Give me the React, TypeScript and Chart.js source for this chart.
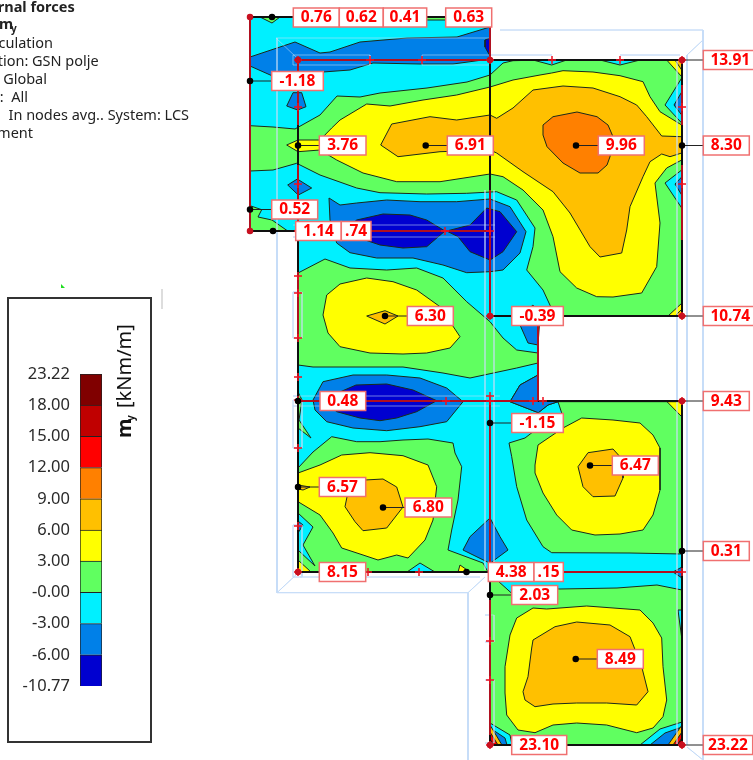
import React, { useEffect, useRef } from "react";
import { Chart, registerables } from "chart.js";
Chart.register(...registerables);

type P = [number, number];

// ---------- legend data ----------
const legendTicks = ["-10.77", "-6.00", "-3.00", "-0.00", "3.00", "6.00", "9.00", "12.00", "15.00", "18.00", "23.22"];
const legendColors = ["#0000d0", "#0080e8", "#00f0ff", "#60ff60", "#ffff00", "#ffc000", "#ff8000", "#ff0000", "#c00000", "#800000"];
const C = { dblue: "#0000d0", blue: "#0080e8", cyan: "#00f0ff", green: "#60ff60", yellow: "#ffff00", orange: "#ffc000", dorange: "#ff8000", red: "#ff0000", dred: "#c00000", maroon: "#800000" };

// ---------- contour bands ----------
const slab: P[] = [[250,17],[490,17],[490,60],[682,60],[682,316],[538,316],[538,401],[682,401],[682,745],[490,745],[490,572],[298,572],[298,231],[250,231]];
const blueTop: P[] = [[250,57],[295,42],[320,53],[330,52],[360,42],[407,38],[457,37],[490,27],[490,59],[453,64],[420,64],[373,63],[350,70],[323,72],[277,78],[250,66]];
const dblueTop: P[] = [[490,38],[485,40],[485,47],[490,56]];
const greenUpper: P[] = [[250,125.7],[273,127],[295,129],[320,115],[337,96],[360,97],[380,93],[427,88],[467,82],[490,75],[503,63],[513,60.7],[541.7,60],[682,60],[682,316],[555,316],[543,290],[526.7,270],[533,246.7],[535,228],[516.7,200],[496.7,191.7],[466.7,193.3],[426.7,194],[380,192.7],[356.7,188],[320,175],[296.7,163.3],[273,170],[250,171]];
const yellowUpper: P[] = [[286.7,145],[298,140],[320,140],[331.7,128],[340,120],[366.7,104],[390,106],[423,100],[456.7,95],[490,87],[513,80],[540,75],[551.7,73],[563,70.7],[593,72],[620,75.7],[643,81.7],[650,96.7],[660,111.7],[681.7,125],[681.7,160],[666.7,168],[655,183],[660,223],[656.7,266.7],[641.7,293],[613,297],[596.7,296.7],[576.7,288],[560,271.7],[553,236.7],[543,210],[523,190],[503,176.7],[490,174],[440,181.7],[396.7,181.7],[363,173],[336.7,160],[320,150],[298,151.7]];
const orangeUpper: P[] = [[380.7,145],[391.7,124],[430,116.7],[456.7,120],[490,115],[496.7,118.3],[513,108],[533,90],[563,86],[593,88],[620,96.7],[636.7,105],[646.7,116.7],[661.7,136],[681.7,136.7],[681.7,153],[670,156.7],[661.7,154],[650,161.7],[643,176.7],[630,206.7],[626.7,230],[621.7,253],[600,257],[590,246.7],[570,213],[553,191.7],[523,171.7],[496.7,153],[490,150],[440,151.7],[398,156.7]];
const dorangeUpper: P[] = [[543,125],[553,116.7],[577,112],[597,116.7],[608,125],[613,136.7],[610,156.7],[607,165],[598,173],[580,173],[563,163],[547,146.7],[543,135]];
const smallGreens: P[][] = [
  [[260,17],[272,23],[280,17]],
  [[425,17],[447,17],[447,20],[425,20]],
  [[250,205.7],[261.7,209.7],[258,217],[272,220],[287,230.5],[250,230.5]],
  [[298,392],[302,400],[299,420],[311,438],[298,428]],
];
const bluePockets: P[][] = [
  [[286.7,106],[293,92.7],[301.7,92.7],[306,106.7],[297.7,110]],
  [[287.7,185],[297.3,179],[311.7,188],[298.3,195]],
  [[329,198],[340,205],[356.7,203],[386.7,200],[420,201.7],[456.7,201.7],[490,199],[510,206.7],[526,231.7],[520,253],[503,270],[490,271.7],[466.7,272.7],[443,265],[413,258],[376.7,258],[350,252.7],[336.7,243],[330,220]],
  [[520,325],[527,310],[533,305],[540,316],[538,345],[528,343]],
  [[313,400],[323,381.7],[353,375],[386.7,375],[420,378],[446.7,388],[463,401.7],[446.7,421.7],[420,426.7],[386.7,430.7],[353,428],[326.7,421.7],[315,410]],
  [[510,401.7],[520,385],[538,375],[538,401],[558,401.7],[548,405],[538.3,412.7]],
  [[463,550],[470,536.7],[490,518],[500,536.7],[508,550],[490,563.3]],
  [[673,572],[682,567],[682,578]],
];
const darkBlueCores: P[][] = [
  [[356.7,220],[383,214],[410,215],[426.7,220],[445,231],[426.7,246.7],[403,248],[380,245],[360,238.3],[345,230]],
  [[446.7,231],[470,225],[486.7,208],[500,211.7],[516.7,231.7],[503,251.7],[490,260],[470,251.7],[458,236.7]],
  [[326,398],[356,385],[386.7,384],[413,390],[436.7,400.7],[416.7,411.7],[396.7,418],[380,420.7],[360,418],[336.7,411.7],[326.7,403]],
];
const greenMiddle: P[] = [[298,273],[325,259],[350,268],[386.7,270],[416.7,268],[443,278],[466.7,301.7],[490,321.7],[503,338],[516.7,350],[538,353],[538,363],[516.7,368],[470,378],[443,373],[403,367],[353,367],[313,367],[298,365]];
const yellowMiddle: P[] = [[323,315],[326.7,295],[340,284],[366.7,278],[393,281.7],[416.7,290],[440,306.7],[460,336.7],[450,348],[426.7,353],[403,354],[370,353],[340,346.7],[328,333]];
const orangeMiddle: P[] = [[366.7,316],[385,310.7],[398,316],[385,324]];
const greenLower: P[] = [[298,468],[313,452],[331.7,436.7],[356.7,441.7],[380,441.7],[403,440],[428,439],[453,443],[455,453],[461.7,466.7],[458,500],[451.7,530],[448,550],[483,563],[488,572],[511.7,593.3],[533,588],[560,589],[617,588],[657,585],[682,590],[682,745],[490,745],[490,572],[298,572]];
const cyanLowerPocket: P[] = [[298,513],[313,527],[303,545],[315,566],[298,550]];
const blueLowerPocket: P[] = [[298,521],[303,525],[298,533]];
const yellowLowerLeft: P[] = [[298,473],[320,465],[341.7,455],[370,452.7],[403,455.7],[428,465],[436.7,486.7],[433,520],[425,540],[408,558],[396.7,555],[378,560],[363,555],[341.7,548],[333,533],[320,515],[298,501.7]];
const orangeLowerLeft: P[] = [[345,506.7],[348,492],[365,480],[383,479],[396.7,487],[403,507],[386.7,528],[363,530.7],[355,521.7]];
const orangeTip: P[] = [[298,485],[310,487],[303,490],[298,489]];
const greenRight: P[] = [[509,443],[525,438],[538,428],[561.7,413],[558,401.7],[682,401.7],[682,554],[630,553],[551.7,552.7],[543,546.7],[526.7,520],[516.7,486.7],[511.7,456.7]];
const yellowRight: P[] = [[535,465],[538,445],[563,428],[581.7,418],[613,420],[640,423],[653,435],[660,448],[660,490],[653,515],[643,530],[620,534],[595,535],[571.7,530],[556.7,515],[543,493],[535,473]];
const orangeRight: P[] = [[578,466.7],[588,452.7],[613,449],[623,460],[623,478],[615,496],[593,496.7],[583,486.7]];
const yellowBottom: P[] = [[505,666.7],[510,635],[516.7,618],[533,608],[546.7,609],[586.7,606],[640,610],[653,623],[661.7,638],[663,666.7],[666.7,700],[663,716.7],[653,728],[636.7,732.7],[606.7,725],[576.7,723],[553,725],[535,732.7],[518,730],[506.7,715],[505,693]];
const orangeBottom: P[] = [[533,640],[555,626.7],[576.7,622],[610,625],[630,636.7],[641.7,666.7],[648,691.7],[636.7,705],[606.7,703],[576.7,703],[553,704],[535,706.7],[525,700],[523,691.7],[528,676.7],[531.7,648]];
const cyanPockets: P[][] = [
  [[533,60],[551.7,65],[566.7,60]],
  [[600,60],[620,65],[640,60]],
  [[681.7,78],[665,105],[681.7,123]],
  [[681.7,170],[665,183],[681.7,208]],
  [[407,572],[420,563],[435,572]],
  [[490,723],[510,735],[512,745],[490,745]],
  [[640,745],[660,729],[682,722],[682,745]],
  [[678,610],[682,610],[682,640]],
];
const blueSmall: P[][] = [
  [[681.7,92],[674,105],[681.7,115]],
  [[681.7,177],[675,184],[681.7,195]],
  [[490,728],[505,738],[507,745],[490,745]],
  [[650,745],[665,733],[682,727],[682,745]],
];
const yellowCorners: P[][] = [
  [[666.7,60],[681.7,76.7],[681.7,60]],
  [[668,316],[682,303],[682,316]],
  [[667,401.7],[682,417],[682,401.7]],
  [[298,560],[311,572],[298,572]],
  [[458,572],[460,565],[470,572]],
];
const orangeCorners: P[][] = [
  [[675,60],[681.7,70],[681.7,60]],
  [[675,316],[682,309],[682,316]],
  [[490,725],[502,745],[490,745]],
  [[668,745],[682,725],[682,745]],
];
const redCorners: P[][] = [
  [[490,732],[498,745],[490,745]],
  [[673,745],[682,732],[682,745]],
];
const maroonCorners: P[][] = [
  [[490,739],[494,745],[490,745]],
  [[677,745],[682,738],[682,745]],
];

// ---------- structure ----------
const blackEdges: P[][] = [
  [[250,17],[490,17]], [[250,231],[298,231]], [[298,125],[298,572],[490,572]],
  [[490,60],[682,60],[682,316],[490,316]], [[538,401],[682,401],[682,745],[490,745],[490,572]],
  [[490,62],[490,190]],
];
const redEdges: P[][] = [
  [[250,17],[250,231]], [[298,60],[298,125]], [[298,60],[490,60]], [[298,231],[490,231]],
  [[490,27],[490,60]], [[538,316],[538,401]], [[298,401],[538,401]],
  [[490,401],[490,572]], [[490,572],[682,572]], [[298,276],[298,338]], [[682,85],[682,125]], [[682,165],[682,240]],
  [[490,600],[490,735]], [[298,165],[298,231]], [[490,190],[490,316]],
];
const wireframe: P[][] = [
  [[276,38],[490,38]], [[276,38],[297,58]], [[277,38],[277,592.7],[468,592.7],[468,760]], [[277,592.7],[298,573]], [[468,592.7],[485,577]],
  [[687,55],[703,40]], [[500,30],[703,30],[703,760]], [[687,747],[703,760]], [[677,60],[677,745]], [[687,55],[687,745]],
  [[293,55],[370,55],[370,65],[293,65],[293,55]], [[422,55],[490,55],[490,65],[422,65],[422,55]],
  [[490,55],[552,55]], [[620,55],[680,55]],
  [[293,225],[495,225]], [[293,237],[495,237]],
  [[293,292],[302,292],[302,338],[293,338],[293,292]],
  [[293,400],[302,400],[302,448],[293,448],[293,400]],
  [[293,525],[302,525],[302,577],[293,577],[293,525]],
  [[485,615],[494,615],[494,642],[485,642]],
  [[485,680],[494,680],[494,743],[485,743]],
  [[485,190],[485,570]], [[494,190],[494,570]],
  [[293,396],[500,396]], [[293,406],[500,406]],
  [[300,577],[480,577]],
];
const meshCrosses: P[] = [[298,60],[370,60],[422,60],[490,60],[552,60],[620,60],[682,60],[682,107],[682,184],[682,316],[490,316],[298,107],[298,184],[298,231],[445,231],[490,231],[298,276],[298,293],[298,338],[298,377],[298,400],[446,401],[490,396],[490,401],[533,401],[543,401],[298,448],[298,526],[298,572],[368,572],[419,572],[682,401],[682,572],[490,641],[490,680],[490,745],[682,745]];

// ---------- value labels ----------
const labelTexts = ["0.76","0.62","0.41","0.63","-1.18","3.76","6.91","9.96","8.30","13.91","0.52","1.14",".74","6.30","-0.39","10.74","0.48","9.43","-1.15","6.47","6.57","6.80","0.31","8.15","4.38",".15","2.03","8.49","23.10","23.22"];
const labelNodes: P[] = [[272,17],[272,17],[272,17],[272,17],[250,81],[298,145.5],[425.7,145.5],[576,145.5],[682,145.5],[682,60],[250,209.5],[273,231],[490,231],[385,316],[490,316],[682,316],[298,401],[682,401],[490,423],[590,465.5],[298,487],[383,507.5],[682,551],[298,572],[466.5,572],[682,572],[490,595],[575.7,659],[490,745],[682,745]];
const labelLefts = [293.3,339.3,383.3,445.7,271.7,319.3,447.3,598.3,703.3,703.3,271.7,295.7,341.3,407.3,511.7,703.3,320,703.3,511.7,612.3,319.3,405,703.3,319.3,488.3,534,511.7,597.3,511.7,703.3];
const labelRights = [339.3,383.3,426.7,491.7,323.3,366,493.3,644.3,749.3,755,317.7,341.3,371,453.3,563.3,755,365.7,749.3,563.3,658.3,365.7,451.7,749.3,365.7,534,563.3,557.7,643.3,566.7,752.7];
const redNodes: P[] = [[250,17],[250,231],[682,60],[682,316],[490,316],[682,401],[490,745],[682,745],[298,572],[298,231],[298,60],[490,60]];
const blackNodes: P[] = [[272,17],[250,81],[298,145.5],[425.7,145.5],[576,145.5],[682,145.5],[250,209.5],[273,231],[385,316],[298,401],[490,423],[590,465.5],[298,487],[383,507.5],[682,551],[466.5,572],[490,595],[575.7,659]];

// ---------- header ----------
const headerLines = ["rnal forces", "", "lculation", "tion: GSN polje", "Global", ":  All", "In nodes avg.. System: LCS", "ement"];
const headerEnds = [74.7, 0, 53, 98.7, 47, 28, 189, 33];

const polyDs = (pts: P[], color: string) => ({
  data: [...pts, pts[0]].map(([x, y]) => ({ x, y })),
  showLine: true, fill: "shape", backgroundColor: color, borderColor: "#1a2a1a", borderWidth: 1, pointRadius: 0, tension: 0, clip: false,
});
const lineDs = (pts: P[], color: string, w: number) => ({
  data: pts.map(([x, y]) => ({ x, y })),
  showLine: true, fill: false, borderColor: color, borderWidth: w, pointRadius: 0, tension: 0, clip: false,
});
const pointDs = (pts: P[], color: string, style: string, r: number) => ({
  data: pts.map(([x, y]) => ({ x, y })),
  showLine: false, pointStyle: style, pointRadius: r, pointBorderColor: color, pointBackgroundColor: color, pointBorderWidth: 1.5, clip: false,
});

const paintOrder = [
  ...wireframe.map((w) => lineDs(w, "#bcd6f6", 1)),
  { ...polyDs(slab, C.cyan), borderWidth: 0 },
  polyDs(blueTop, C.blue), polyDs(dblueTop, C.dblue),
  ...bluePockets.map((p) => polyDs(p, C.blue)),
  ...darkBlueCores.map((p) => polyDs(p, C.dblue)),
  ...smallGreens.map((p) => polyDs(p, C.green)),
  polyDs(greenUpper, C.green), polyDs(yellowUpper, C.yellow), polyDs(orangeUpper, C.orange), polyDs(dorangeUpper, C.dorange),
  polyDs(greenMiddle, C.green), polyDs(yellowMiddle, C.yellow), polyDs(orangeMiddle, C.orange),
  polyDs(greenLower, C.green), polyDs(cyanLowerPocket, C.cyan), polyDs(blueLowerPocket, C.blue),
  polyDs(yellowLowerLeft, C.yellow), polyDs(orangeLowerLeft, C.orange), polyDs(orangeTip, C.orange),
  polyDs(greenRight, C.green), polyDs(yellowRight, C.yellow), polyDs(orangeRight, C.orange),
  polyDs(yellowBottom, C.yellow), polyDs(orangeBottom, C.orange),
  ...cyanPockets.map((p) => polyDs(p, C.cyan)),
  ...blueSmall.map((p) => polyDs(p, C.blue)),
  ...yellowCorners.map((p) => polyDs(p, C.yellow)),
  ...orangeCorners.map((p) => polyDs(p, C.orange)),
  ...redCorners.map((p) => polyDs(p, C.red)),
  ...maroonCorners.map((p) => polyDs(p, C.maroon)),
  polyDs(bluePockets[5], C.blue),
  ...wireframe.map((w) => lineDs(w, "rgba(200,222,248,0.55)", 1)),
  ...labelNodes.map((n, i) => lineDs([n, [labelLefts[i], n[1]]], "#222222", 1)),
  ...blackEdges.map((e) => lineDs(e, "#101010", 2)),
  ...redEdges.map((e) => lineDs(e, "#b01020", 2)),
  pointDs(meshCrosses, "#ee1020", "cross", 4),
  pointDs(blackNodes, "#000000", "circle", 2.5),
  pointDs(redNodes, "#c81020", "circle", 2.5),
];

const FONT = '"Noto Sans", sans-serif';

const mainOverlay = {
  id: "mainOverlay",
  afterDatasetsDraw(chart: any) {
    const ctx = chart.ctx; const sx = chart.scales.x; const sy = chart.scales.y;
    ctx.save();
    // value labels
    labelTexts.forEach((t, i) => {
      const cy = sy.getPixelForValue(labelNodes[i][1]);
      const l = sx.getPixelForValue(labelLefts[i]); const r = sx.getPixelForValue(labelRights[i]);
      ctx.fillStyle = "#ffffff"; ctx.strokeStyle = "#f07070"; ctx.lineWidth = 1.5;
      const top = i < 4 ? 8 : cy - 9.5;
      ctx.fillRect(l, top, r - l, 19); ctx.strokeRect(l, top, r - l, 19);
      ctx.fillStyle = "#ff0000"; ctx.font = `bold 15.5px ${FONT}`; ctx.textAlign = "center"; ctx.textBaseline = "middle";
      ctx.fillText(t, i === 9 || i === 15 ? l + 27 : (l + r) / 2, top + 10);
    });
    // header text
    ctx.fillStyle = "#222222"; ctx.textAlign = "right"; ctx.textBaseline = "middle";
    headerLines.forEach((t, i) => {
      if (!t) return;
      ctx.font = i === 0 ? `bold 14.5px ${FONT}` : `14.5px ${FONT}`;
      ctx.fillText(t, headerEnds[i], 8 + i * 17.95);
    });
    ctx.font = `bold 14.5px ${FONT}`; ctx.textAlign = "left"; ctx.fillText("m", -1, 25);
    ctx.font = `bold 10px ${FONT}`; ctx.fillText("y", 11, 29);
    ctx.restore();
  },
};

const legendOverlay = {
  id: "legendOverlay",
  afterDraw(chart: any) {
    const ctx = chart.ctx;
    ctx.save();
    ctx.translate(116, 139);
    ctx.rotate(-Math.PI / 2);
    ctx.fillStyle = "#111111"; ctx.textAlign = "left"; ctx.textBaseline = "middle";
    ctx.font = `bold 20px ${FONT}`; ctx.fillText("m", 0, 0);
    ctx.font = `bold 10px ${FONT}`; ctx.fillText("y", 17, 6);
    ctx.font = `20px ${FONT}`; ctx.fillText("[kNm/m]", 30, 0);
    ctx.restore();
  },
};

export default function App() {
  const mainRef = useRef<HTMLCanvasElement>(null);
  const legRef = useRef<HTMLCanvasElement>(null);
  useEffect(() => {
    const main = new Chart(mainRef.current!, {
      type: "scatter",
      data: { datasets: paintOrder.map((d, i) => ({ ...d, order: paintOrder.length - i })) as any },
      options: {
        animation: false, responsive: false, devicePixelRatio: 1,
        layout: { padding: 0, autoPadding: false },
        plugins: { legend: { display: false }, tooltip: { enabled: false } },
        scales: {
          x: { type: "linear", min: 0, max: 753, display: false },
          y: { type: "linear", min: 0, max: 760, reverse: true, display: false },
        },
      } as any,
      plugins: [mainOverlay],
    });
    const leg = new Chart(legRef.current!, {
      type: "bar",
      data: {
        labels: ["m"],
        datasets: legendColors.map((c) => ({ data: [1], backgroundColor: c, borderColor: "#222222", borderWidth: 1, barPercentage: 1, categoryPercentage: 1, stack: "s" })),
      },
      options: {
        animation: false, responsive: false, devicePixelRatio: 1,
        layout: { padding: { left: 0, right: 47, top: 75, bottom: 55 } },
        plugins: { legend: { display: false }, tooltip: { enabled: false } },
        scales: {
          x: { display: false, stacked: true },
          y: {
            stacked: true, min: 0, max: 10,
            afterFit: (s: any) => { s.width = 71; },
            grid: { display: false, drawTicks: false }, border: { display: false },
            ticks: { stepSize: 1, autoSkip: false, padding: 10, color: "#2a2a2a", font: { family: '"Noto Sans"', size: 16.5 }, callback: (v: any) => legendTicks[v] },
          },
        },
      } as any,
      plugins: [legendOverlay],
    });
    return () => { main.destroy(); leg.destroy(); };
  }, []);
  return (
    <div style={{ position: "absolute", left: 0, top: 0, width: 753, height: 760, background: "#fff", overflow: "hidden" }}>
      <canvas ref={mainRef} width={753} height={760} style={{ position: "absolute", left: 0, top: 0 }} />
      <div style={{ position: "absolute", left: 7, top: 297, width: 141, height: 442, border: "2px solid #333", background: "#fff" }} />
      <canvas ref={legRef} width={140} height={442} style={{ position: "absolute", left: 9, top: 299 }} />
      <div style={{ position: "absolute", left: 161, top: 289, width: 2, height: 20, background: "#ddd" }} />
      <div style={{ position: "absolute", left: 61, top: 284, width: 4, height: 4, background: "#22dd22", clipPath: "polygon(0 0,100% 100%,0 100%)" }} />
    </div>
  );
}
